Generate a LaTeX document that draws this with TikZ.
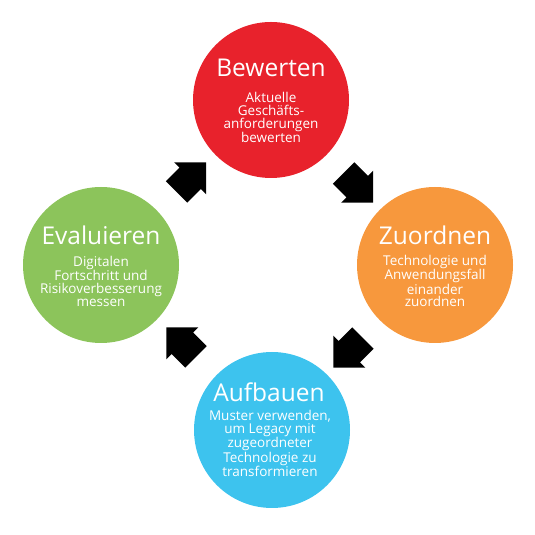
\documentclass[tikz,border=0pt]{standalone}
\usepackage{fontspec}
\setmainfont{Open Sans}
\usetikzlibrary{shapes.arrows,calc}
\definecolor{bewred}{HTML}{E8222C}
\definecolor{zuoorange}{HTML}{F7983D}
\definecolor{aufblue}{HTML}{3DC3EE}
\definecolor{evagreen}{HTML}{8CC45B}

\begin{document}
\begin{tikzpicture}[
  x=1pt, y=1pt,
  phase/.style={circle, minimum size=156pt, inner sep=0pt},
  ttl/.style={text=white, font=\fontsize{24.5}{24.5}\selectfont},
  txt/.style={text=white, align=center, font=\fontsize{13.5}{12.7}\selectfont},
  cyc/.style={single arrow, fill=black, inner xsep=0pt, inner ysep=15pt,
              minimum height=42pt, single arrow head extend=7.5pt,
              single arrow tip angle=90}
]
\useasboundingbox (0,0) rectangle (535,535);

\node[phase, fill=bewred]    (bew) at (271,435) {};
\node[phase, fill=zuoorange] (zuo) at (435,270) {};
\node[phase, fill=aufblue]   (auf) at (272,105) {};
\node[phase, fill=evagreen]  (eva) at (101,270) {};

\node[ttl] (bewttl) at ($(bew)+(0,32)$) {Bewerten};
\node[txt] (bewtxt) at ($(bew)+(0,-17.5)$) {Aktuelle\\Geschäfts-\\anforderungen\\bewerten};

\node[ttl] (zuottl) at ($(zuo)+(0,30)$) {Zuordnen};
\node[txt] (zuotxt) at ($(zuo)+(0,-16)$) {Technologie und\\Anwendungsfall\\einander\\zuordnen};

\node[ttl] (aufttl) at ($(auf)+(-3,38)$) {Aufbauen};
\node[txt] (auftxt) at ($(auf)+(-2,-13.5)$) {Muster verwenden,\\um Legacy mit\\zugeordneter\\Technologie zu\\transformieren};

\node[ttl] (evattl) at ($(eva)+(0,30)$) {Evaluieren};
\node[txt] (evatxt) at ($(eva)+(0,-16)$) {Digitalen\\Fortschritt und\\Risikoverbesserung\\messen};

\node[cyc, rotate=45]   (evabew) at ($(eva)!0.5!(bew)$) {};
\node[cyc, rotate=-45]  (bewzuo) at ($(bew)!0.5!(zuo)$) {};
\node[cyc, rotate=-135] (zuoauf) at ($(zuo)!0.5!(auf)$) {};
\node[cyc, rotate=135]  (aufeva) at ($(auf)!0.5!(eva)$) {};

\end{tikzpicture}
\end{document}
